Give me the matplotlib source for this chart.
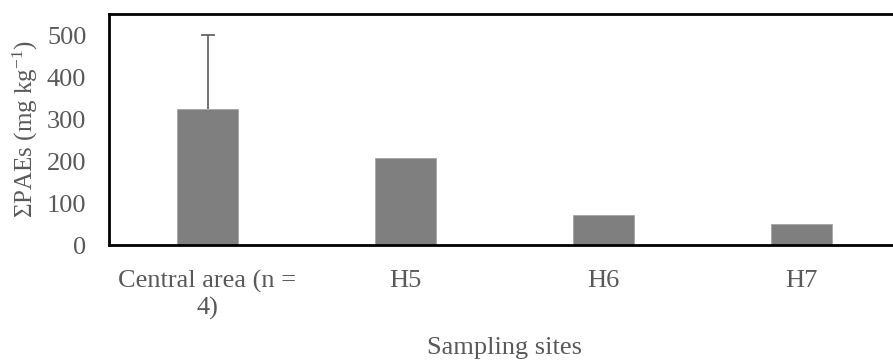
import matplotlib.pyplot as plt
import numpy as np

plt.rcParams['font.family'] = ['Liberation Serif', 'DejaVu Serif']
plt.rcParams['mathtext.fontset'] = 'custom'
plt.rcParams['mathtext.rm'] = 'Liberation Serif'
plt.rcParams['mathtext.it'] = 'Liberation Serif:italic'

sites = ['Central area (n =\n4)', 'H5', 'H6', 'H7']
paes = [323, 208, 72, 50]
err_up = [177, 0, 0, 0]

grey_txt = '#595959'

fig = plt.figure(figsize=(8.93, 3.62), dpi=100)
ax = fig.add_axes([108.5 / 893, 1 - 245 / 362, 792 / 893, 231 / 362])

x = np.arange(len(sites))
ax.bar(x, paes, width=0.31, color='#7f7f7f', edgecolor='#a6a6a6', linewidth=0.6, zorder=2)
# only the first site has an error bar, drawn upward
eb = ax.errorbar(x[:1], paes[:1], yerr=[[0], err_up[:1]], fmt='none',
                 ecolor='#595959', elinewidth=1.2, capsize=5, capthick=1.2, zorder=3)
for cl in eb[1]:
    if cl.get_ydata()[0] == paes[0]:
        cl.set_visible(False)

ax.set_xlim(-0.5, 3.5)
ax.set_ylim(0, 550)
ax.set_yticks([0, 100, 200, 300, 400, 500])
ax.set_xticks(x)
ax.set_xticklabels(sites, fontsize=19, color=grey_txt, linespacing=1.22)
ax.tick_params(axis='y', length=0, pad=16, labelsize=19, labelcolor=grey_txt)
ax.tick_params(axis='x', length=0, pad=18)

for s in ['top', 'left', 'bottom', 'right']:
    ax.spines[s].set_linewidth(2.0)
    ax.spines[s].set_color('black')

ax.set_ylabel('ΣPAEs (mg kg$^{-1}$)', fontsize=18, color=grey_txt, labelpad=5)
ax.set_xlabel('Sampling sites', fontsize=19, color=grey_txt, labelpad=12)

fig.savefig('out.png', dpi=100)
